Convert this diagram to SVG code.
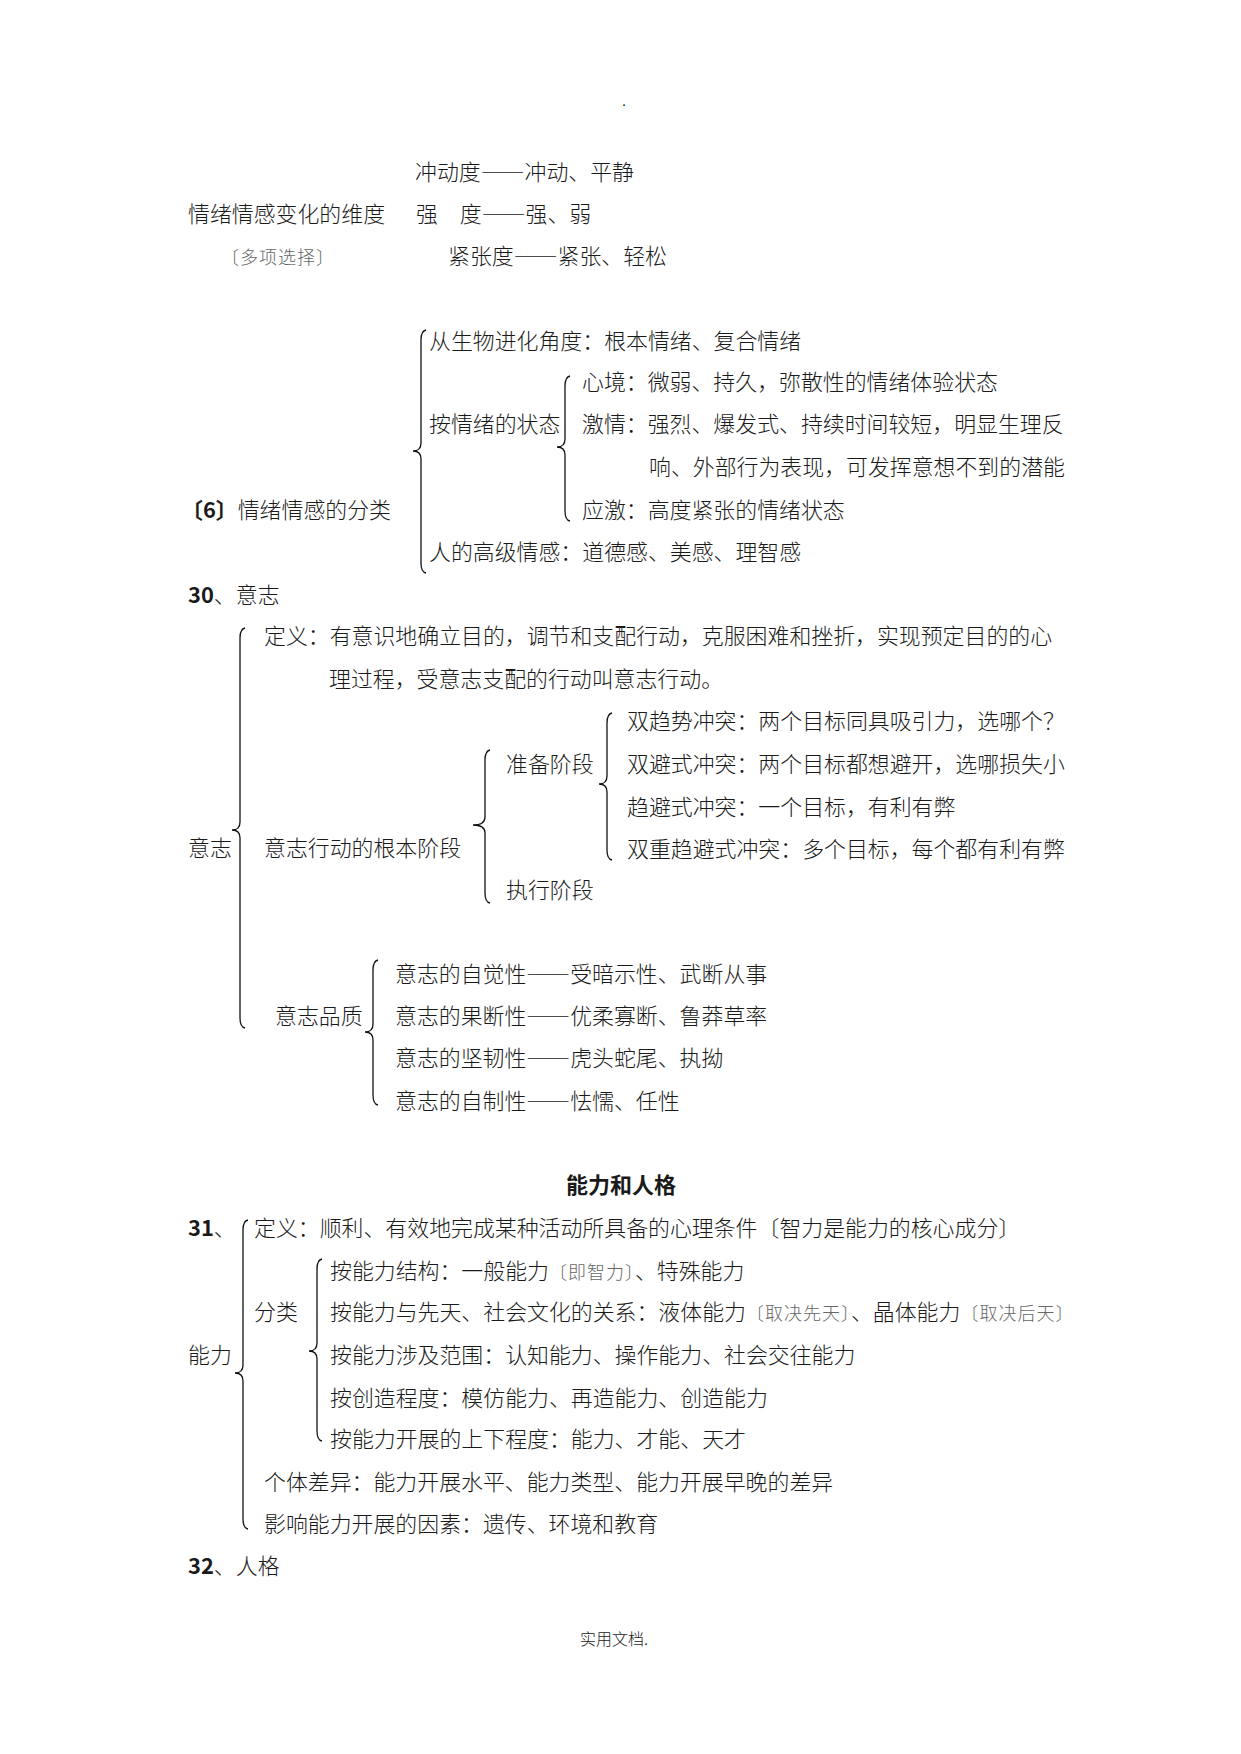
<svg xmlns="http://www.w3.org/2000/svg" width="1241" height="1754" viewBox="0 0 1241 1754">
<style>
text{font-family:"Noto Sans CJK SC","Noto Sans CJK JP",sans-serif;font-size:21.9px;fill:#1a1a1a;font-weight:300}
.s{font-size:18px;fill:#666;letter-spacing:1px}
.b{font-weight:700}
.t{font-weight:700;font-size:22px}
.ft{font-size:16px}
.d{font-feature-settings:"fwid" 1}
.br{fill:none;stroke:#111;stroke-width:1.3}
</style>
<rect width="1241" height="1754" fill="#fff"/>
<text x="622" y="106" class="ft">.</text>

<g id="dim">
<text x="415" y="180">冲动度<tspan class="d">——</tspan>冲动、平静</text>
<text x="188" y="222">情绪情感变化的维度</text>
<text x="416" y="222">强　度<tspan class="d">——</tspan>强、弱</text>
<text x="221" y="264" class="s">〔多项选择〕</text>
<text x="448" y="264">紧张度<tspan class="d">——</tspan>紧张、轻松</text>
</g>

<g id="classify">
<text x="181" y="518"><tspan class="b">〔6〕</tspan>情绪情感的分类</text>
<text x="429" y="349">从生物进化角度：根本情绪、复合情绪</text>
<text x="429" y="432">按情绪的状态</text>
<text x="582" y="390">心境：微弱、持久，弥散性的情绪体验状态</text>
<text x="582" y="432">激情：强烈、爆发式、持续时间较短，明显生理反</text>
<text x="649" y="475">响、外部行为表现，可发挥意想不到的潜能</text>
<text x="582" y="518">应激：高度紧张的情绪状态</text>
<text x="429" y="560">人的高级情感：道德感、美感、理智感</text>
</g>

<g id="will">
<text x="188" y="603"><tspan class="b">30</tspan>、意志</text>
<text x="188" y="856">意志</text>
<text x="264" y="644">定义：有意识地确立目的，调节和支配行动，克服困难和挫折，实现预定目的的心</text>
<text x="329" y="687">理过程，受意志支配的行动叫意志行动。</text>
<text x="264" y="856">意志行动的根本阶段</text>
<text x="506" y="772">准备阶段</text>
<text x="506" y="898">执行阶段</text>
<text x="627" y="729">双趋势冲突：两个目标同具吸引力，选哪个？</text>
<text x="627" y="772">双避式冲突：两个目标都想避开，选哪损失小</text>
<text x="627" y="815">趋避式冲突：一个目标，有利有弊</text>
<text x="627" y="857">双重趋避式冲突：多个目标，每个都有利有弊</text>
<text x="275" y="1024">意志品质</text>
<text x="395" y="982">意志的自觉性<tspan class="d">——</tspan>受暗示性、武断从事</text>
<text x="395" y="1024">意志的果断性<tspan class="d">——</tspan>优柔寡断、鲁莽草率</text>
<text x="395" y="1066">意志的坚韧性<tspan class="d">——</tspan>虎头蛇尾、执拗</text>
<text x="395" y="1109">意志的自制性<tspan class="d">——</tspan>怯懦、任性</text>
</g>

<g id="ability">
<text x="621" y="1193" class="t" text-anchor="middle">能力和人格</text>
<text x="188" y="1236"><tspan class="b">31</tspan>、</text>
<text x="188" y="1363">能力</text>
<text x="254" y="1236">定义：顺利、有效地完成某种活动所具备的心理条件〔智力是能力的核心成分〕</text>
<text x="254" y="1320">分类</text>
<text x="330" y="1279">按能力结构：一般能力<tspan class="s">〔即智力〕</tspan>、特殊能力</text>
<text x="330" y="1320">按能力与先天、社会文化的关系：液体能力<tspan class="s">〔取决先天〕</tspan>、晶体能力<tspan class="s">〔取决后天〕</tspan></text>
<text x="330" y="1363">按能力涉及范围：认知能力、操作能力、社会交往能力</text>
<text x="330" y="1406">按创造程度：模仿能力、再造能力、创造能力</text>
<text x="330" y="1447">按能力开展的上下程度：能力、才能、天才</text>
<text x="264" y="1490">个体差异：能力开展水平、能力类型、能力开展早晚的差异</text>
<text x="264" y="1532">影响能力开展的因素：遗传、环境和教育</text>
<text x="188" y="1574"><tspan class="b">32</tspan>、人格</text>
</g>

<text x="614" y="1645" class="ft" text-anchor="middle">实用文档.</text>

<g id="connectors">
<path class="br" d="M426,330 Q421,331 421,340 L421,443 Q421,451 413,451 Q421,451 421,459 L421,563 Q421,572 426,573"/>
<path class="br" d="M570,376 Q565,377 565,386 L565,439 Q565,447 557,447 Q565,447 565,455 L565,511 Q565,520 570,521"/>
<path class="br" d="M245,628 Q240,629 240,638 L240,822 Q240,830 232,830 Q240,830 240,838 L240,1018 Q240,1027 245,1028"/>
<path class="br" d="M490,750 Q485,751 485,760 L485,817 Q485,825 473,825 Q485,825 485,833 L485,893 Q485,902 490,903"/>
<path class="br" d="M612,713 Q607,714 607,723 L607,776 Q607,784 599,784 Q607,784 607,792 L607,850 Q607,859 612,860"/>
<path class="br" d="M378,960 Q373,961 373,970 L373,1024 Q373,1032 365,1032 Q373,1032 373,1040 L373,1095 Q373,1104 378,1105"/>
<path class="br" d="M248,1220 Q243,1221 243,1230 L243,1365 Q243,1373 235,1373 Q243,1373 243,1381 L243,1519 Q243,1528 248,1529"/>
<path class="br" d="M322,1259 Q317,1260 317,1269 L317,1343 Q317,1351 309,1351 Q317,1351 317,1359 L317,1431 Q317,1440 322,1441"/>
</g>
</svg>
